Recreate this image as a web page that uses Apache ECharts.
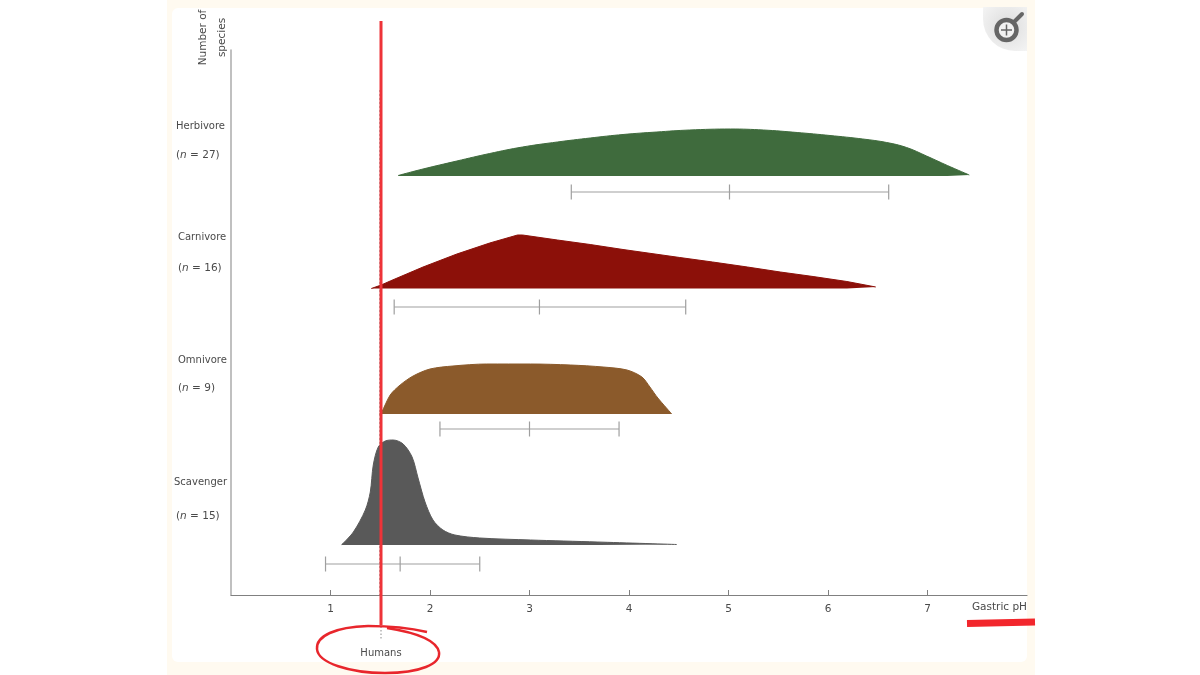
<!DOCTYPE html>
<html><head><meta charset="utf-8">
<style>html,body{margin:0;padding:0;background:#fff}#c{width:1200px;height:675px}</style>
<script src="https://cdn.jsdelivr.net/npm/echarts@6/dist/echarts.min.js"></script>
</head><body><div id="c"></div>
<script>
var phTicks = [1,2,3,4,5,6,7];
var groupNames = ['Herbivore','Carnivore','Omnivore','Scavenger'];
var groupCounts = ['27','16','9','15'];
var groupColors = ['#3f6b3d','#8c1009','#8b5a2b','#595959'];

var herbivorePH = [1.68,1.93,2.27,2.60,2.93,3.28,3.61,3.94,4.28,4.61,5.02,5.35,5.69,6.02,6.35,6.59,6.79,6.99,7.20,7.42];
var herbivoreLevel = [419.5,426,434,441.5,448,453,457,460.5,463,465,466,465,462.5,459.5,456,452.5,447.5,439,429.5,420];
var carnivorePH = [1.41,1.51,1.60,1.93,2.27,2.60,2.88,2.93,3.28,3.61,3.94,4.51,4.84,5.19,5.52,5.85,6.19,6.48];
var carnivoreLevel = [306.5,310,314,328,341,352,360,360,355,350.5,345.5,337.5,333,328,323,318.5,313.5,308];
var omnivorePH = [1.49,1.51,1.60,1.70,1.83,2.00,2.23,2.57,3.01,3.41,3.74,3.98,4.13,4.21,4.29,4.43];
var omnivoreLevel = [181,182,200,210,219,226,229,231,231,230,228,225,218,208,197,181];
var scavengerPH = [1.11,1.23,1.35,1.40,1.43,1.48,1.55,1.63,1.73,1.82,1.88,1.95,2.03,2.13,2.25,2.50,3.01,3.68,4.48];
var scavengerLevel = [50,63,85,103,130,148,154,155,151,138,117,93,75,65,60,57,55,53,50.5];
var baselines = [419,306.5,181,50];
// low, median, high, level
var rangeBars = [[3.42,5.01,6.61,403],[1.64,3.10,4.57,288],[2.10,3.00,3.90,166],[0.95,1.70,2.50,31]];

function zip(a,b){return a.map(function(v,i){return [v,b[i]];});}
var curves = [zip(herbivorePH,herbivoreLevel),zip(carnivorePH,carnivoreLevel),zip(omnivorePH,omnivoreLevel),zip(scavengerPH,scavengerLevel)];
var smoothing = [0.4,0,0.3,0.3];
var textCol = '#4a4a4a', font = '"DejaVu Sans", sans-serif';

var series = curves.map(function(d,i){
  return {type:'line',name:groupNames[i],data:d,symbol:'none',smooth:smoothing[i],
    lineStyle:{color:groupColors[i],width:1},itemStyle:{color:groupColors[i]},
    areaStyle:{color:groupColors[i],opacity:1,origin:baselines[i]},z:2,silent:true};
});
series.push({type:'custom',name:'Range',data:rangeBars,z:3,silent:true,
  encode:{x:[0,1,2],y:3},
  renderItem:function(p,api){
    var y=api.value(3),a=api.coord([api.value(0),y]),m=api.coord([api.value(1),y]),b=api.coord([api.value(2),y]);
    var st={stroke:'#9f9f9f',lineWidth:1.2,fill:null},h=7.5;
    function l(x1,y1,x2,y2){return {type:'line',shape:{x1:x1,y1:y1,x2:x2,y2:y2},style:st};}
    return {type:'group',children:[l(a[0],a[1],b[0],b[1]),l(a[0],a[1]-h,a[0],a[1]+h),l(m[0],m[1]-h,m[0],m[1]+h),l(b[0],b[1]-h,b[0],b[1]+h)]};
  }});

var labelPos = [[176,126,176,155],[178,237,178,268],[178,360,178,388],[174,482,176,516]];
var labelEls = [];
groupNames.forEach(function(n,i){
  var p=labelPos[i];
  labelEls.push({type:'text',x:p[0],y:p[1],z:50,style:{text:n,fill:textCol,font:'10px '+font,verticalAlign:'middle'}});
  labelEls.push({type:'text',x:p[2],y:p[3],z:50,style:{text:'({i|n} = '+groupCounts[i]+')',fill:textCol,font:'10.5px '+font,verticalAlign:'middle',
    rich:{i:{fontStyle:'italic',fontSize:10.5,fontFamily:'DejaVu Sans',fill:textCol}}}});
});

function bez(a,b,c,d,e,f,g,h){return {type:'bezierCurve',z:60,shape:{x1:a,y1:b,cpx1:c,cpy1:d,cpx2:e,cpy2:f,x2:g,y2:h},style:{fill:null,stroke:'#e8262c',lineWidth:2.5}};}
var graphic = [
  {type:'rect',z:-3,shape:{x:167,y:0,width:868,height:675},style:{fill:'#fffaf0'}},
  {type:'rect',z:-2,shape:{x:172,y:8,width:855,height:654,r:6},style:{fill:'#ffffff'}},
  {type:'line',z:1,shape:{x1:379.5,y1:90,x2:379.5,y2:595},style:{stroke:'#bdbdbd',lineWidth:1,lineDash:[2,2]}},
  {type:'line',z:1,shape:{x1:381,y1:595,x2:381,y2:640},style:{stroke:'#8a8a8a',lineWidth:1,lineDash:[1.5,2]}},
  {type:'text',x:381,y:653,z:50,style:{text:'Humans',fill:textCol,font:'10px '+font,align:'center',verticalAlign:'middle'}},
  {type:'text',x:212.5,y:37.5,rotation:Math.PI/2,z:50,style:{text:'Number of\nspecies',fill:textCol,font:'10.5px '+font,lineHeight:19,align:'center',verticalAlign:'middle'}},
  // zoom badge
  {type:'rect',z:40,shape:{x:983,y:7,width:44,height:44,r:[0,0,0,32]},style:{fill:{type:'radial',x:0.55,y:0.45,r:0.7,colorStops:[{offset:0,color:'#dcdcdc'},{offset:1,color:'#f4f4f4'}]}}},
  {type:'circle',z:41,shape:{cx:1006.5,cy:30,r:10},style:{fill:'#f2f2f2',stroke:'#666',lineWidth:4.5}},
  {type:'line',z:41,shape:{x1:1014,y1:22,x2:1022,y2:14},style:{stroke:'#666',lineWidth:4,lineCap:'round'}},
  {type:'line',z:42,shape:{x1:1001,y1:30,x2:1012,y2:30},style:{stroke:'#666',lineWidth:1.5}},
  {type:'line',z:42,shape:{x1:1006.5,y1:24.5,x2:1006.5,y2:35.5},style:{stroke:'#666',lineWidth:1.5}},
  // hand annotations
  {type:'line',z:60,shape:{x1:381,y1:21,x2:381,y2:625},style:{stroke:'#ee3338',lineWidth:3}},
  bez(427,632,410,628,390,626,368,626),
  bez(368,626,335,627,316,636,317,649),
  bez(317,649,318,663,350,673,385,673),
  bez(385,673,420,673,441,664,439,652),
  bez(439,652,437,643,425,634,387,628),
  {type:'line',z:60,shape:{x1:967,y1:623.5,x2:1035,y2:622},style:{stroke:'#f2262c',lineWidth:7}}
].concat(labelEls);

var chart = echarts.init(document.getElementById('c'),null,{renderer:'canvas'});
chart.setOption({
  animation:false,
  backgroundColor:'transparent',
  grid:{left:231,top:50,width:796,height:545,containLabel:false},
  xAxis:{type:'value',min:0,max:8,interval:1,
    name:'Gastric pH',nameLocation:'end',nameGap:0,
    nameTextStyle:{color:textCol,fontFamily:'DejaVu Sans',fontSize:10.5,align:'right',verticalAlign:'top',padding:[7,0,0,0]},
    axisLine:{show:true,onZero:false,lineStyle:{color:'#808080',width:1.2}},
    axisTick:{show:true,inside:true,length:5,lineStyle:{color:'#808080'},customValues:phTicks},
    axisLabel:{color:textCol,fontFamily:'DejaVu Sans',fontSize:10.5,margin:9,customValues:phTicks},
    splitLine:{show:false}},
  yAxis:{type:'value',min:0,max:545,
    axisLine:{show:true,onZero:false,lineStyle:{color:'#ababab',width:1.5}},
    axisTick:{show:false},axisLabel:{show:false},splitLine:{show:false}},
  series:series,
  graphic:{elements:graphic}
});
</script></body></html>
